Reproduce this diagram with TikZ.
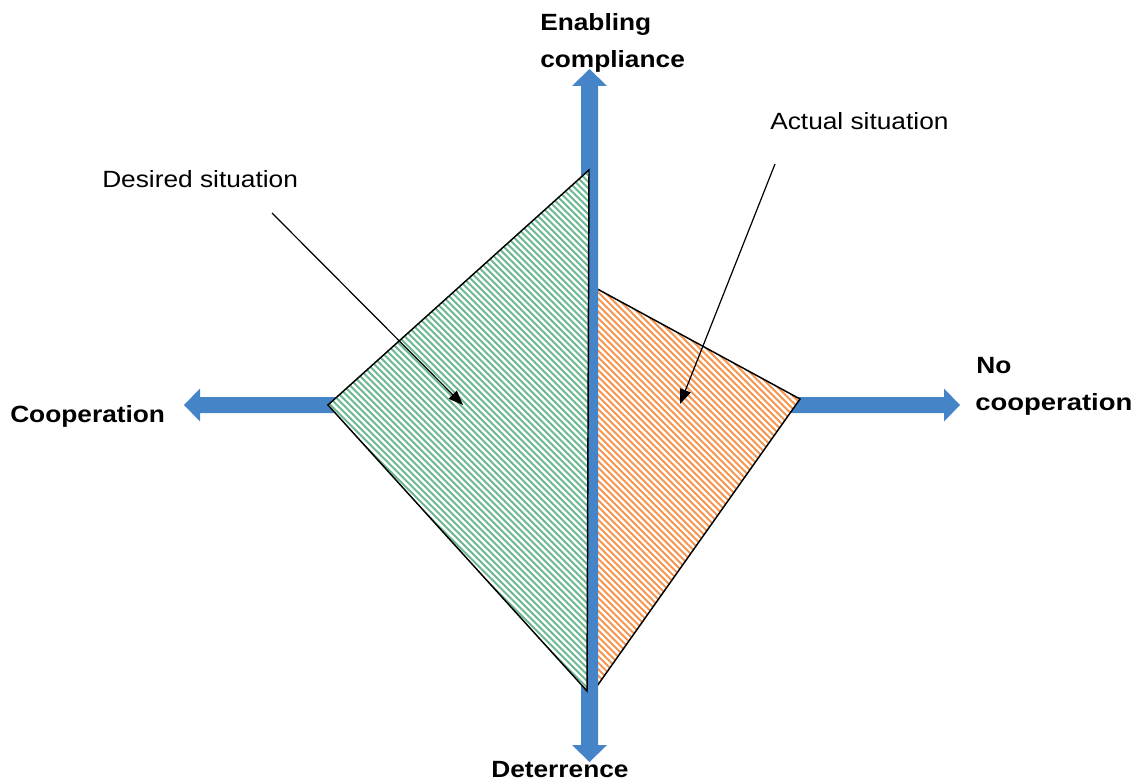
\documentclass[tikz,border=0pt]{standalone}
\usepackage{fontspec}
\setmainfont{Liberation Sans}
\usetikzlibrary{arrows.meta}
\definecolor{axisblue}{RGB}{70,132,200}
\definecolor{hatchgreen}{RGB}{108,184,144}
\definecolor{hatchorange}{RGB}{247,148,78}
\begin{document}
\begin{tikzpicture}[x=0.75pt,y=-0.75pt,
  txt/.style={inner sep=0pt,anchor=base west,font=\fontsize{17.6}{21}\selectfont},
  axislbl/.style={txt,font=\fontsize{17.6}{21}\selectfont\bfseries},
  axisarrow/.style={fill=axisblue,draw=none},
  region/.style={draw=black,line width=1.1pt,line join=miter},
  ghatch/.style={draw=hatchgreen,line width=1.35pt},
  ohatch/.style={draw=hatchorange,line width=1.35pt},
  note/.style={draw=black,line width=0.9pt,-{Triangle[length=11pt,width=8.5pt]}}]
% page frame
\useasboundingbox (0,0) rectangle (1144,781);

% corner points of the two regions
\coordinate (gT) at (589,170);
\coordinate (gL) at (328,405);
\coordinate (gB) at (587,691);
\coordinate (oT) at (590,285);
\coordinate (oR) at (800,399);
\coordinate (oB) at (590,696);

% horizontal double arrow (cooperation axis)
\fill[axisarrow] (184,405) -- (200,388.5) -- (200,397) -- (944,397) -- (944,388.5)
  -- (960,405) -- (944,421.5) -- (944,413) -- (200,413) -- (200,421.5) -- cycle;

% actual situation region
\fill[white] (oT) -- (oR) -- (oB) -- cycle;
\begin{scope}
  \clip (oT) -- (oR) -- (oB) -- cycle;
  \foreach \c in {-110,-103.5,...,530} \draw[ohatch] (\c,0) -- ++(900,900);
\end{scope}
\draw[region] (oT) -- (oR) -- (oB) -- cycle;

% vertical double arrow (compliance axis)
\fill[axisarrow] (589.5,69) -- (607,86) -- (598,86) -- (598,745) -- (607,745)
  -- (589.5,762) -- (572,745) -- (581,745) -- (581,86) -- (572,86) -- cycle;

% desired situation region
\fill[white] (gT) -- (gL) -- (gB) -- cycle;
\begin{scope}
  \clip (gT) -- (gL) -- (gB) -- cycle;
  \foreach \c in {-380,-373.5,...,430} \draw[ghatch] (\c,0) -- ++(900,900);
\end{scope}
\draw[region] (gT) -- (gL) -- (gB) -- cycle;

% axis labels
\node[axislbl] (enab1) at (540,31) {\scalebox{1.12}[1]{Enabling}};
\node[axislbl] (enab2) at (540,68) {\scalebox{1.12}[1]{compliance}};
\node[axislbl] (coop) at (10,422) {\scalebox{1.12}[1]{Cooperation}};
\node[axislbl] (nocoop1) at (976,373) {\scalebox{1.12}[1]{No}};
\node[axislbl] (nocoop2) at (975,410) {\scalebox{1.17}[1]{cooperation}};
\node[axislbl] (deter) at (491,777) {\scalebox{1.12}[1]{Deterrence}};

% callouts
\node[txt] (desired) at (102,187) {\scalebox{1.12}[1]{Desired situation}};
\node[txt] (actual) at (770,130) {\scalebox{1.12}[1]{Actual situation}};
\coordinate (dsFrom) at (272,213);
\coordinate (dsTo) at (463,405);
\coordinate (acFrom) at (775,164);
\coordinate (acTo) at (680,404);
\draw[note] (dsFrom) -- (dsTo);
\draw[note] (acFrom) -- (acTo);
\end{tikzpicture}
\end{document}
